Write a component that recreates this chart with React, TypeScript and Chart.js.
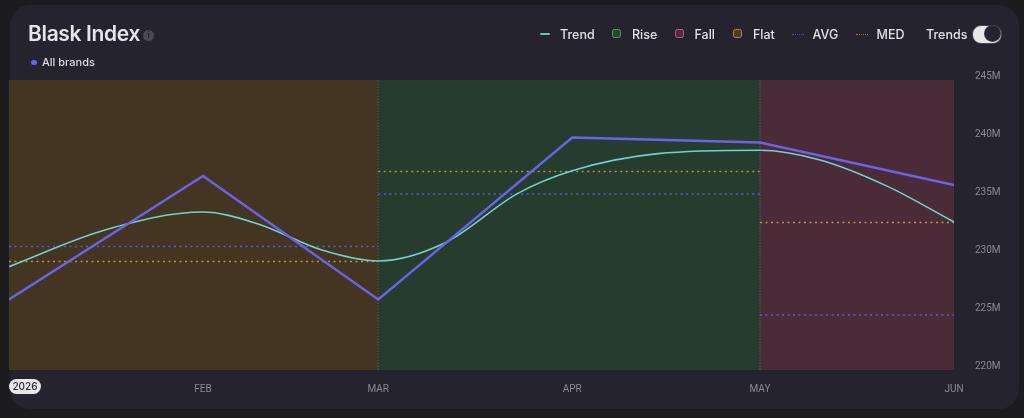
import React, { useEffect, useRef } from "react";
import { Chart, registerables } from "chart.js";

Chart.register(...registerables);

const monthDays = [0, 31, 59, 90, 120, 151];
const monthLabels = ["", "FEB", "MAR", "APR", "MAY", "JUN"];
const yearLabel = "2026";
const yTicks = [220, 225, 230, 235, 240, 245];

const avgValues = [226.08, 236.72, 226.08, 240.04, 239.61, 235.95];

const trendDays = [0, 15.34, 31, 39.8, 50, 59, 69.7, 81.3, 90, 103.7, 120, 129.6, 140.3, 151];
const trendValues = [228.91, 232.07, 233.62, 232.59, 230.34, 229.4, 230.97, 235.23, 237.18, 238.65, 238.94, 238.1, 235.85, 232.76];

const flatRange = [0, 59];
const riseRange = [59, 120];
const fallRange = [120, 151];
const boundaryDays = [59, 120];

const avgFlat = 230.65;
const medFlat = 229.35;
const avgRise = 235.17;
const medRise = 237.11;
const avgFall = 224.74;
const medFall = 232.72;

const yMin = 220;
const yMax = 245;

const legendItems = [
  { label: "Trend", kind: "line", color: "#6fbfb4", mark: 540, text: 560 },
  { label: "Rise", kind: "box", color: "#55956a", fill: "#2a4633", mark: 612, text: 632 },
  { label: "Fall", kind: "box", color: "#c9558f", fill: "#4e2c3c", mark: 675, text: 694.5 },
  { label: "Flat", kind: "box", color: "#b5843f", fill: "#4d3a22", mark: 733, text: 753 },
  { label: "AVG", kind: "dots", color: "#3f4fb0", mark: 792, text: 812.5 },
  { label: "MED", kind: "dots", color: "#a8703f", mark: 856, text: 876.5 },
];

const FONT = "Inter, 'Noto Sans', sans-serif";
const AXIS_FONT = "Roboto, Inter, sans-serif";

function points(xs: number[], ys: number[]) {
  return xs.map((x, i) => ({ x, y: ys[i] }));
}
function band(range: number[], color: string) {
  return {
    type: "line" as const,
    data: [{ x: range[0], y: yMax }, { x: range[1], y: yMax }],
    backgroundColor: color,
    borderWidth: 0,
    pointRadius: 0,
    fill: "start",
    order: 10,
  };
}
function dotted(range: number[], value: number, color: string) {
  return {
    type: "line" as const,
    data: [{ x: range[0], y: value }, { x: range[1], y: value }],
    borderColor: color,
    borderWidth: 1.5,
    borderDash: [2, 3.5],
    pointRadius: 0,
    fill: false,
    order: 3,
  };
}
function boundary(day: number) {
  return {
    type: "line" as const,
    data: [{ x: day, y: yMin }, { x: day, y: yMax }],
    borderColor: "#5f5e6a",
    borderWidth: 1,
    borderDash: [1.5, 1.5],
    pointRadius: 0,
    fill: false,
    order: 4,
  };
}

export default function App() {
  const ref = useRef<HTMLCanvasElement>(null);
  useEffect(() => {
    document.body.style.margin = "0";
    document.body.style.background = "#1c1b1f";
    const chart = new Chart(ref.current!, {
      type: "line",
      data: {
        datasets: [
          band(flatRange, "#443422"),
          band(riseRange, "#263c2e"),
          band(fallRange, "#4a2b37"),
          boundary(boundaryDays[0]),
          boundary(boundaryDays[1]),
          dotted(flatRange, avgFlat, "#5a5bd0"),
          dotted(flatRange, medFlat, "#b58f45"),
          dotted(riseRange, avgRise, "#4a62d0"),
          dotted(riseRange, medRise, "#b58f45"),
          dotted(fallRange, avgFall, "#5f5ad4"),
          dotted(fallRange, medFall, "#c0953f"),
          {
            data: points(trendDays, trendValues),
            borderColor: "#73d1cb",
            borderWidth: 1.6,
            cubicInterpolationMode: "monotone",
            pointRadius: 0,
            fill: false,
            order: 2,
          },
          {
            data: points(monthDays, avgValues),
            borderColor: "#6a63e6",
            borderWidth: 2.4,
            tension: 0,
            pointRadius: 0,
            fill: false,
            order: 1,
          },
        ] as any,
      },
      options: {
        responsive: false,
        animation: false,
        layout: { padding: { left: 9, top: 80, right: 10, bottom: 0 } },
        plugins: { legend: { display: false }, tooltip: { enabled: false } },
        scales: {
          x: {
            type: "linear",
            min: monthDays[0],
            max: monthDays[monthDays.length - 1],
            grid: { display: false },
            border: { display: false },
            afterBuildTicks: (s: any) => {
              s.ticks = monthDays.map((v) => ({ value: v }));
            },
            afterFit: (s: any) => {
              s.height = 48;
            },
            ticks: {
              autoSkip: false,
              maxRotation: 0,
              padding: 5,
              color: "#8b8994",
              font: { family: AXIS_FONT, size: 10 },
              callback: (v: any) => monthLabels[monthDays.indexOf(Number(v))] ?? "",
            },
          },
          y: {
            type: "linear",
            position: "right",
            min: yMin,
            max: yMax,
            grid: { display: false, drawTicks: false },
            border: { display: false },
            afterBuildTicks: (s: any) => {
              s.ticks = yTicks.map((v) => ({ value: v }));
            },
            afterFit: (s: any) => {
              s.width = 60;
            },
            ticks: {
              padding: 21,
              labelOffset: -3.5,
              color: "#8b8994",
              font: { family: AXIS_FONT, size: 10 },
              callback: (v: any) => `${v}M`,
            },
          },
        },
      } as any,
    });
    return () => chart.destroy();
  }, []);

  const abs: React.CSSProperties = { position: "absolute" };
  return (
    <div style={{ position: "relative", width: 1024, height: 418, overflow: "hidden", background: "#1c1b1f", fontFamily: FONT }}>
      <div style={{ ...abs, left: 10, top: 5, width: 1009, height: 404, background: "#25232d", borderRadius: 20 }} />
      <canvas ref={ref} width={1024} height={418} style={{ ...abs, left: 0, top: 0, width: 1024, height: 418 }} />
      <div style={{ ...abs, left: 28, top: 20, fontSize: 21, letterSpacing: -0.35, lineHeight: "28px", fontWeight: 600, color: "#e6e5e9", whiteSpace: "nowrap" }}>Blask Index</div>
      <div style={{ ...abs, left: 143, top: 29.5, width: 11, height: 11, borderRadius: "50%", background: "#4a4956", color: "#25232d", fontSize: 8, lineHeight: "11px", textAlign: "center", fontWeight: 700 }}>i</div>
      <div style={{ ...abs, left: 31, top: 59.5, width: 5.5, height: 5.5, borderRadius: "50%", background: "#6a62f5" }} />
      <div style={{ ...abs, left: 42, top: 54, fontSize: 11, lineHeight: "16px", fontWeight: 500, color: "#dddce1", whiteSpace: "nowrap" }}>All brands</div>
      {legendItems.map((it) => (
        <React.Fragment key={it.label}>
          {it.kind === "line" && <div style={{ ...abs, left: it.mark, top: 33, width: 10, height: 2, borderRadius: 1, background: it.color }} />}
          {it.kind === "box" && <div style={{ ...abs, left: it.mark, top: 29, width: 7, height: 7, border: `1.5px solid ${it.color}`, borderRadius: 2.5, background: it.fill }} />}
          {it.kind === "dots" && <div style={{ ...abs, left: it.mark, top: 33.5, width: 12, height: 0, borderTop: `1.2px dotted ${it.color}` }} />}
          <div style={{ ...abs, left: it.text, top: 25.5, fontSize: 12.5, lineHeight: "18px", fontWeight: 500, color: "#e2e1e6", whiteSpace: "nowrap" }}>{it.label}</div>
        </React.Fragment>
      ))}
      <div style={{ ...abs, left: 926, top: 25.5, fontSize: 12.5, lineHeight: "18px", fontWeight: 500, color: "#e2e1e6", whiteSpace: "nowrap" }}>Trends</div>
      <div style={{ ...abs, left: 972, top: 25, width: 28, height: 17, borderRadius: 9, background: "#e8e7ea", border: "0.5px solid #45444f" }} />
      <div style={{ ...abs, left: 985, top: 26, width: 15, height: 15, borderRadius: "50%", background: "#25232d", boxShadow: "0 0 0 1px #3a3944" }} />
      <div style={{ ...abs, left: 9, top: 379, width: 32, height: 15, borderRadius: 8, background: "#e8e7ea", color: "#2b2a33", fontSize: 10, lineHeight: "15px", textAlign: "center", fontWeight: 500 }}>{yearLabel}</div>
    </div>
  );
}
